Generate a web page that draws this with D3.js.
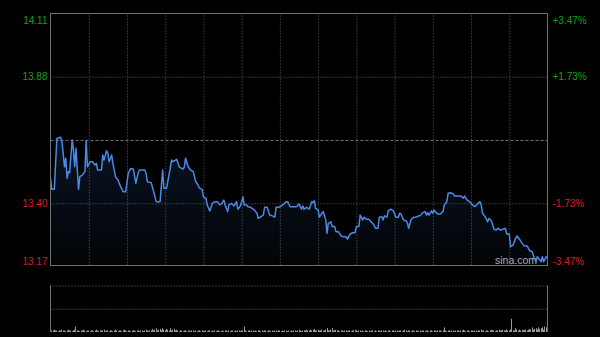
<!DOCTYPE html>
<html>
<head>
<meta charset="utf-8">
<script src="https://cdn.jsdelivr.net/npm/d3@7"></script>
<style>
  html, body { margin: 0; padding: 0; background: #000; }
  #chart { width: 600px; height: 337px; }
  text { font-family: Arial, "Liberation Sans", sans-serif; }
</style>
</head>
<body>
<div id="chart"></div>
<script>
// minute of session (0 = 09:30, 390 = 16:00) and price
const minutes = [0,1,3,5,8,9,11,12,13,14,15,17,18,19,20,22,23,25,27,28,29,31,33,35,36,37,40,41,42,44,45,46,48,49,51,53,55,57,59,61,63,65,67,69,70,74,75,76,79,81,82,83,86,88,89,91,93,95,96,
  99,101,104,105,106,108,110,112,114,115,117,119,120,122,123,125,127,129,131,133,134,136,137,139,140,142,144,146,147,149,151,152,154,155,157,160,162,163,165,167,168,170,172,174,176,177,179,181,183,185,186,188,193,195,
  197,198,199,201,203,205,206,207,208,210,211,213,214,216,217,218,220,221,223,224,226,228,230,232,233,235,237,239,240,242,243,245,246,248,250,252,253,255,257,258,260,261,262,264,265,267,269,271,273,274,275,277,279,280,281,283,285,287,289,290,292,294,
  295,296,297,299,300,301,303,304,306,308,309,311,312,314,316,317,322,324,325,327,329,331,333,335,337,338,339,341,343,344,346,347,348,350,351,353,355,357,358,360,361,363,365,366,368,370,372,374,376,378,379,381,382,385,386,387,389,390];

const prices = [13.497,13.456,13.456,13.646,13.650,13.634,13.540,13.572,13.497,13.522,13.518,13.640,13.603,13.540,13.609,13.456,13.503,13.509,13.522,13.637,13.540,13.559,13.559,13.547,13.553,13.528,13.528,13.584,13.565,13.600,13.590,13.559,13.584,13.553,13.503,13.491,13.466,13.447,13.447,13.516,13.534,13.531,13.479,13.522,13.528,13.528,13.516,13.484,13.481,13.447,13.428,13.410,13.410,13.528,13.460,13.460,13.509,13.565,13.559,
  13.568,13.540,13.531,13.540,13.572,13.540,13.528,13.522,13.484,13.478,13.460,13.456,13.428,13.423,13.398,13.375,13.404,13.410,13.410,13.398,13.401,13.416,13.398,13.373,13.398,13.404,13.394,13.410,13.382,13.394,13.428,13.398,13.398,13.391,13.389,13.379,13.367,13.348,13.354,13.360,13.389,13.389,13.360,13.357,13.352,13.389,13.389,13.394,13.401,13.410,13.410,13.391,13.391,13.401,
  13.382,13.394,13.382,13.389,13.382,13.410,13.406,13.414,13.385,13.379,13.352,13.367,13.373,13.342,13.292,13.329,13.335,13.317,13.317,13.298,13.298,13.282,13.279,13.279,13.270,13.289,13.294,13.294,13.317,13.317,13.360,13.342,13.352,13.344,13.344,13.332,13.329,13.311,13.311,13.352,13.354,13.342,13.357,13.352,13.376,13.382,13.376,13.352,13.352,13.367,13.364,13.342,13.339,13.332,13.311,13.344,13.352,13.352,13.357,13.357,13.369,13.373,
  13.360,13.369,13.360,13.376,13.367,13.379,13.367,13.364,13.364,13.373,13.398,13.410,13.441,13.443,13.439,13.431,13.431,13.423,13.431,13.416,13.410,13.398,13.391,13.401,13.410,13.398,13.367,13.354,13.335,13.348,13.339,13.323,13.307,13.304,13.311,13.304,13.307,13.311,13.289,13.289,13.242,13.248,13.273,13.282,13.270,13.255,13.245,13.245,13.227,13.223,13.207,13.186,13.205,13.186,13.205,13.186,13.205,13.199];

// volume per minute (thousand shares)
const volumes = [
  14,2,2,3,2,2,1,2,2,3, 2,2,1,2,3,2,2,1,2,3, 7,2,2,1,2,2,3,2,1,2, 2,1,2,2,1,2,3,2,1,2,
  2,2,3,1,2,2,1,2,2,1, 2,3,2,1,2,2,1,2,3,2, 1,2,2,1,2,2,2,1,2,2, 1,2,2,1,2,3,2,1,2,2,
  4,2,3,5,2,3,4,2,5,3, 2,4,3,2,5,2,3,4,2,3, 2,1,2,2,1,2,2,1,2,2, 1,2,2,1,2,1,2,2,1,2,
  2,1,2,1,2,2,1,2,1,2, 1,2,2,1,1,2,1,2,2,1, 2,1,2,2,1,2,1,2,2,1, 2,2,7,2,1,2,2,1,2,2,
  1,2,1,2,2,1,2,1,2,2, 1,2,2,1,2,1,2,2,1,2, 2,1,2,1,2,2,1,2,1,2, 1,2,2,1,2,3,2,1,2,2,
  2,3,2,2,3,2,3,4,2,2, 3,2,2,3,2,2,3,5,2,2, 3,5,2,2,3,2,2,1,2,2, 1,2,2,1,2,2,1,2,2,3,
  2,1,2,2,1,2,1,2,2,1, 2,1,2,2,1,2,1,2,2,1, 2,2,1,2,1,2,2,1,2,2, 1,2,2,1,2,2,1,2,3,2,
  1,2,2,1,2,2,1,2,2,1, 2,1,2,2,1,2,2,1,2,2, 1,2,2,1,2,2,2,1,2,6, 2,1,2,2,1,2,2,1,2,2,
  2,1,2,2,3,2,1,2,2,1, 2,2,1,2,2,1,2,2,3,2, 2,1,2,2,1,2,3,2,2,1, 2,2,3,2,2,3,2,2,3,2,
  2,3,17,2,2,5,3,2,3,2, 3,2,3,3,2,3,4,3,6,3, 4,5,3,6,4,5,6,3,7,6, 20
];

const prevClose   = 13.64;
const pctLevels   = [3.47, 1.73, 0, -1.73, -3.47];
const pctLabels   = ["+3.47%", "+1.73%", "", "-1.73%", "-3.47%"];
const timeTicks   = [30, 60, 90, 120, 150, 180, 210, 240, 270, 300, 330, 360];

const W = 600, H = 337;
const pLeft = 50.5, pRight = 547.5;
const pTop = 13.5, pBottom = 265.5;
const volTop = 285.5, volBottom = 332;

const svg = d3.select("#chart").append("svg")
  .attr("width", W).attr("height", H)
  .style("background", "#000");

const x = d3.scaleLinear().domain([0, 390]).range([pLeft, pRight]);
const y = d3.scaleLinear().domain([13.17, 14.11]).range([266, 14]);
const yv = d3.scaleLinear().domain([0, 60]).range([volBottom, volTop]);

const levels = pctLevels.map(p => prevClose * (1 + p / 100));

// gradient for area
const defs = svg.append("defs");
const grad = defs.append("linearGradient")
  .attr("id", "fillGrad")
  .attr("gradientUnits", "userSpaceOnUse")
  .attr("x1", 0).attr("x2", 0).attr("y1", 135).attr("y2", pBottom);
grad.append("stop").attr("offset", "0%").attr("stop-color", "#3f7fdc").attr("stop-opacity", 0.16);
grad.append("stop").attr("offset", "100%").attr("stop-color", "#3f7fdc").attr("stop-opacity", 0.03);

// vertical grid
svg.append("g")
  .attr("transform", `translate(0,${pBottom})`)
  .call(d3.axisBottom(x).tickValues(timeTicks).tickSize(-(pBottom - pTop)).tickFormat(""))
  .call(g => g.select(".domain").remove())
  .call(g => g.selectAll("line").attr("stroke", "#626262").attr("stroke-dasharray", "1,2"));

// horizontal grid
svg.append("g")
  .attr("transform", `translate(${pLeft},0)`)
  .call(d3.axisLeft(y).tickValues(levels.slice(1, 4)).tickSize(-(pRight - pLeft)).tickFormat(""))
  .call(g => g.select(".domain").remove())
  .call(g => g.selectAll("line")
    .attr("stroke", (d, i) => i === 1 ? "#707070" : "#626262")
    .attr("stroke-dasharray", (d, i) => i === 1 ? "3,2" : "1,2"));

// watermark
svg.append("text")
  .attr("x", 537).attr("y", 264)
  .attr("text-anchor", "end")
  .attr("fill", "#b0b0b0")
  .attr("font-size", "10.5px")
  .text("sina.com");

// area + line
const area = d3.area()
  .x((d, i) => x(minutes[i]))
  .y0(pBottom)
  .y1(d => y(d));
svg.append("path")
  .datum(prices)
  .attr("d", area)
  .attr("fill", "url(#fillGrad)");

const line = d3.line()
  .x((d, i) => x(minutes[i]))
  .y(d => y(d));
svg.append("path")
  .datum(prices)
  .attr("d", line)
  .attr("fill", "none")
  .attr("stroke", "#4a8ae6")
  .attr("stroke-width", 1.5)
  .attr("stroke-linejoin", "round");

// frame
svg.append("rect")
  .attr("x", pLeft).attr("y", pTop)
  .attr("width", pRight - pLeft).attr("height", pBottom - pTop)
  .attr("fill", "none")
  .attr("stroke", "#707070");

// left labels (price)
const shownLevels = levels.filter((d, i) => pctLevels[i] !== 0);
const shownPct = pctLabels.filter(s => s !== "");

const leftAxis = svg.append("g")
  .attr("transform", `translate(${pLeft - 3},0)`)
  .call(d3.axisLeft(y).tickValues(shownLevels).tickSize(0).tickPadding(0)
    .tickFormat(d => d.toFixed(2)));
leftAxis.select(".domain").remove();
leftAxis.selectAll("text")
  .attr("font-size", "10px")
  .attr("font-family", "Arial, 'Liberation Sans', sans-serif")
  .attr("fill", d => d > prevClose ? "#16a016" : "#d42020")
  .attr("dy", (d, i, n) => i === 0 ? "1.0em" : (i === n.length - 1 ? "-0.2em" : "0.32em"));

// right labels (percent)
const rightAxis = svg.append("g")
  .attr("transform", `translate(${pRight + 5},0)`)
  .call(d3.axisRight(y).tickValues(shownLevels).tickSize(0).tickPadding(0)
    .tickFormat((d, i) => shownPct[i]));
rightAxis.select(".domain").remove();
rightAxis.selectAll("text")
  .attr("font-size", "10px")
  .attr("font-family", "Arial, 'Liberation Sans', sans-serif")
  .attr("fill", d => d > prevClose ? "#16a016" : "#d42020")
  .attr("dy", (d, i, n) => i === 0 ? "1.0em" : (i === n.length - 1 ? "-0.2em" : "0.32em"));

// volume panel grid
svg.append("g")
  .attr("transform", `translate(${pLeft},0)`)
  .call(d3.axisLeft(yv).tickValues([60, 30]).tickSize(-(pRight - pLeft)).tickFormat(""))
  .call(g => g.select(".domain").remove())
  .call(g => g.selectAll("line").attr("stroke", "#6a6a6a").attr("stroke-dasharray", "1,2"));

// volume bars
svg.append("g")
  .selectAll("rect")
  .data(volumes)
  .join("rect")
  .attr("x", (d, i) => Math.floor(x(i)))
  .attr("y", d => yv(d))
  .attr("width", 1)
  .attr("height", d => volBottom - yv(d))
  .attr("fill", "#9a9a9a");

// volume side borders
svg.append("g")
  .selectAll("line")
  .data([pLeft, pRight])
  .join("line")
  .attr("x1", d => d).attr("x2", d => d)
  .attr("y1", volTop).attr("y2", volBottom)
  .attr("stroke", "#707070");
</script>
</body>
</html>
